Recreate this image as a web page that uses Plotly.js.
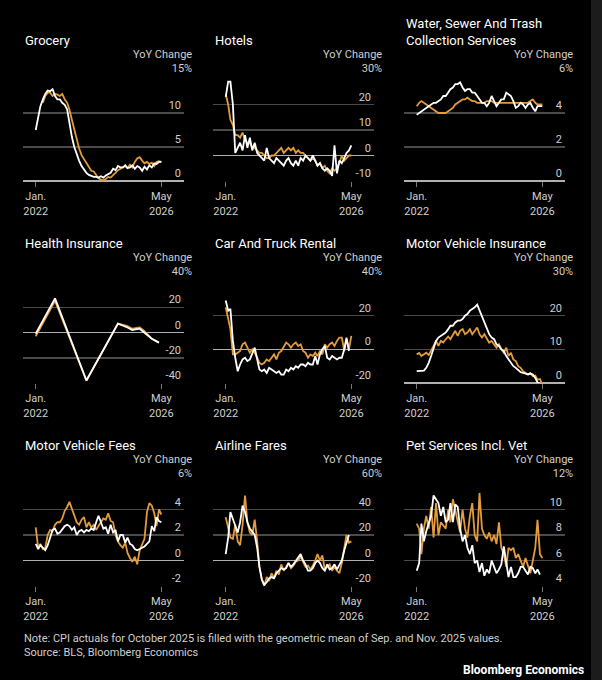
<!DOCTYPE html>
<html>
<head>
<meta charset="utf-8">
<script src="https://cdn.plot.ly/plotly-3.0.1.min.js"></script>
<style>html,body{margin:0;padding:0;background:#000}#chart{width:602px;height:680px}</style>
</head>
<body>
<div id="chart"></div>
<script>
// small multiples: white vs orange YoY series, monthly Jan 2022 onward
const ORANGE = '#e39b3b';
const WHITE = '#ffffff';
const FONT = '"Liberation Sans Narrow", "Roboto", "DejaVu Sans Condensed", sans-serif';
const W = 602, H = 680;

const titles = ['Grocery', 'Hotels', 'Water, Sewer And Trash<br>Collection Services',
  'Health Insurance', 'Car And Truck Rental', 'Motor Vehicle Insurance',
  'Motor Vehicle Fees', 'Airline Fares', 'Pet Services Incl. Vet'];
const yTops = [15, 30, 6, 40, 40, 30, 6, 60, 12];
const yBottoms = [0, -10, 0, -40, -20, 0, -2, -20, 4];
const yTicks = [[0, 5, 10], [-10, 0, 10, 20], [0, 2, 4], [-40, -20, 0, 20], [-20, 0, 20], [0, 10, 20], [-2, 0, 2, 4], [-20, 0, 20, 40], [4, 6, 8, 10]];

const groceryW = [7.5, 9.5, 11, 12, 12.8, 13.3, 13.2, 13.5, 12.5, 12.0, 12.0, 11.5, 11.2, 10.5, 8.5, 6.5, 5.0, 3.8, 3.0, 2.2, 1.6, 1.2, 0.9, 0.7, 0.6, 0.6, 0.5, 0.7, 0.5, 0.8, 1.0, 1.2, 1.8, 1.6, 2.2, 2.0, 2.0, 2.3, 1.9, 2.0, 2.3, 1.8, 2.2, 2.0, 1.5, 2.1, 1.7, 2.3, 2.0, 2.6, 2.5, 2.8, 2.8];
const groceryO = [null, null, null, 11.5, 12.5, 13.0, 13.0, 12.5, 12.8, 12.7, 12.5, 12.8, 12.0, 11.5, 10.5, 9.0, 7.5, 6.0, 4.8, 3.8, 3.2, 2.6, 2.0, 1.5, 1.4, 0.8, 0.4, 0.2, 0.1, 0.3, 0.6, 0.5, 0.8, 1.2, 1.6, 1.8, 2.0, 2.2, 1.9, 2.4, 2.0, 2.8, 3.3, 3.5, 3.0, 2.6, 2.8, 2.5, 2.7, 2.2, 2.8, 2.9, 2.8];
const hotelsW = [23, 29, 29, 20, 1, 3, 5, 2, 8, 3, 7, 2, 5, 1, 0, -1, -2, 3, -1, -2, -3, -1, -2, -3, -4, -2, -1, -3, -4, -2, -4, -1, -2, 0, -1, -2, 0, -2, -4, -3, -5, -6, -5, -6, -8, 4, -7, -2, -3, -1, 1, 2, 4];
const hotelsO = [24, 20, 14, 12, 8, 8, 7, 9, 6, 5, 5, 3, 3, 2, 1, 1, 0, -1, -1, 0, 0, 1, 2, 3, 1, 2, 3, 2, 3, 1, 2, 1, 1, 0, -1, -2, -1, -2, -4, -3, -5, -4, -6, -7, -5, -6, -5, -3, 0, -2, -1, 0, 0];
const waterW = [3.9, 4.0, 4.1, 4.2, 4.3, 4.4, 4.5, 4.6, 4.6, 4.7, 4.8, 5.0, 5.0, 5.2, 5.4, 5.5, 5.7, 5.7, 5.8, 5.5, 5.3, 5.4, 5.4, 5.2, 5.2, 5.0, 4.8, 4.6, 4.6, 4.4, 4.6, 5.0, 4.7, 4.4, 4.6, 4.8, 4.8, 5.2, 5.1, 5.0, 4.7, 4.3, 4.4, 4.6, 4.5, 4.3, 4.5, 4.6, 4.3, 4.1, 4.4, 4.4, 4.4];
const waterO = [4.4, 4.6, 4.7, 4.6, 4.5, 4.4, 4.3, 4.2, 4.1, 4.0, 4.0, 4.0, 4.0, 4.1, 4.2, 4.3, 4.5, 4.6, 4.7, 4.8, 4.8, 4.9, 4.8, 4.7, 4.7, 4.6, 4.6, 4.6, 4.6, 4.7, 4.7, 4.7, 4.6, 4.6, 4.6, 4.6, 4.6, 4.6, 4.6, 4.6, 4.6, 4.6, 4.6, 4.6, 4.6, 4.6, 4.6, 4.7, 4.8, 4.6, 4.5, 4.5, 4.5];
// health insurance is drawn from its turning points only
const healthDates = ['2022-01-01', '2022-09-01', '2023-10-01', '2024-11-01', '2025-03-01', '2025-05-01', '2025-08-01', '2025-10-01', '2026-01-01', '2026-04-01'];
const healthW = [-1, 27, -38, 7, 4, 2, 3, 0, -5, -8];
const healthO = [-3, 25, -38, 7, 5, 3, 4, 1, -5, -8];
const carW = [29, 23, 24, 5, -5, -13, -9, -6, -5, -7, -6, -2, 1, -6, -12, -13, -12, -14, -11, -12, -13, -14, -13, -15, -15, -12, -13, -11, -12, -10, -11, -9, -9, -10, -8, -9, -9, -4, -9, -3, 0, 2, -5, -6, -4, -5, -6, -5, -5, 0, 7, -1];
const carO = [25, 18, 12, -3, -3, -2, -1, 3, 4, 1, -2, 0, -2, -5, -8, -9, -8, -6, -7, -5, -3, -6, -2, -1, 2, 4, 3, 1, 3, 4, 2, 3, -1, -2, -5, -3, -4, -2, -4, -1, -3, 3, 1, 3, 4, 2, 5, 7, 7, -1, 6, 0, 8];
const mviW = [3.5, 3.6, 3.6, 3.7, 4.5, 6, 8, 10, 12.5, 13.5, 14, 14.5, 15, 16, 17, 17, 18, 18.5, 18.5, 19, 20, 20.5, 21.5, 22, 22.5, 23.3, 21.5, 20, 18, 16, 14.5, 13.5, 13, 11.5, 11, 10, 9.5, 8, 7, 6, 5, 4.5, 3.8, 3.2, 3, 2.8, 2.6, 2.8, 2.5, 1.5, 0.2, -0.2];
const mviO = [8.5, 8.9, 8, 8.5, 9, 8.3, 9.5, 11, 12.5, 11, 12.5, 12, 13, 13.8, 13, 14.5, 15.5, 14, 15.5, 16, 14.5, 15, 16, 14.5, 15.5, 16.5, 14.5, 13.5, 14.5, 13, 12, 12.5, 11.5, 10.5, 11.5, 10, 9, 10.5, 8, 9, 7, 6.5, 5, 4.5, 3.5, 3, 2.5, 3, 2, 2.2, 1, 1.2, -0.5];
const feesW = [1.3, 0.9, 1.2, 1.0, 0.8, 1.2, 1.8, 2.4, 2.5, 2.1, 2.2, 2.5, 2.7, 2.8, 2.7, 2.4, 2.6, 2.0, 2.3, 2.4, 2.2, 2.4, 2.3, 2.5, 2.4, 3.0, 3.5, 3.0, 2.5, 2.6, 2.1, 2.8, 2.2, 2.4, 1.5, 2.0, 2.0, 1.4, 1.8, 1.3, 1.2, 0.9, 0.8, 0.9, 1.0, 1.1, 1.3, 1.5, 2.7, 2.3, 3.4, 3.1, 3.0];
const feesO = [2.6, 1.0, 1.3, 0.9, 1.0, 2.0, 2.4, 2.3, 2.8, 3.0, 3.0, 3.3, 3.9, 4.2, 4.6, 4.0, 3.6, 3.0, 2.8, 3.2, 3.4, 2.6, 3.0, 2.6, 2.8, 2.4, 2.7, 3.0, 3.3, 3.2, 3.7, 3.1, 3.0, 2.0, 1.5, 1.2, 1.0, 1.4, 0.6, 0.2, -0.1, 0.3, -0.3, 0.8, 1.2, 1.7, 3.8, 4.5, 4.3, 3.7, 2.7, 4.0, 3.6];
const airW = [5, 18, 38, 33, 28, 22, 30, 43, 38, 30, 25, 22, 20, 10, -5, -15, -19, -17, -14, -13, -14, -10, -8, -6, -7, -6, -2, -5, -3, 0, 3, 5, 0, -3, -8, -8, -6, -2, 0, -2, -6, -8, -3, -7, -6, -3, -7, -4, 0, 8, 14, 20];
const airO = [34, 25, 18, 17, 28, 15, 12, 28, 51, 30, 22, 20, 32, 15, -5, -15, -20, -13, -16, -10, -14, -8, -11, -3, -8, -5, -2, -6, -4, -1, 0, 3, -1, -5, -4, -7, -4, 0, 5, 0, 4, -7, -5, -3, -8, -5, -8, -10, -2, 8, 20, 14, 15];
const petW = [5.2, 5.8, 8.9, 7.5, 8.3, 9.0, 9.5, 11.1, 10.8, 10.5, 9.5, 10.2, 9.0, 9.2, 10.5, 9.0, 10.4, 10.2, 8.5, 7.5, 8.0, 7.0, 6.5, 7.2, 5.8, 6.0, 5.1, 5.8, 4.8, 5.3, 5.0, 6.0, 5.5, 5.0, 5.3, 5.7, 7.1, 5.8, 4.7, 5.5, 4.7, 4.7, 5.0, 5.5, 5.5, 5.2, 4.9, 5.5, 5.4, 5.0, 5.3, 4.9];
const petO = [8.9, 8.5, 6.5, 8.5, 9.5, 8.5, 10.2, 7.8, 10.5, 8.0, 9.0, 8.7, 8.5, 10.0, 9.0, 10.8, 10.0, 9.0, 8.2, 10, 8.5, 7.8, 9.5, 10.5, 8.0, 7.5, 11.3, 8.5, 8.0, 7.7, 8.2, 7.5, 8.0, 7.3, 9.0, 7.0, 6.5, 5.5, 7.0, 6.8, 7.0, 6.2, 6.5, 6.0, 5.5, 6.2, 5.5, 5.0, 6.0, 7.0, 9.2, 6.5, 6.2];

const whites = [groceryW, hotelsW, waterW, healthW, carW, mviW, feesW, airW, petW];
const oranges = [groceryO, hotelsO, waterO, healthO, carO, mviO, feesO, airO, petO];

function monthDates(n) {
  const out = [];
  for (let i = 0; i < n; i++) {
    const y = 2022 + Math.floor(i / 12), m = (i % 12) + 1;
    out.push(`${y}-${String(m).padStart(2, '0')}-01`);
  }
  return out;
}
function datesFor(i, arr) { return i === 3 ? healthDates : monthDates(arr.length); }

const colX = [[23, 184], [213, 374], [404, 565]];
const rowY = [[79, 181], [282, 383], [484, 586]];

const traces = [], annotations = [], layout = {
  width: W, height: H, margin: { l: 0, r: 0, t: 0, b: 0 },
  paper_bgcolor: '#000', plot_bgcolor: '#000', showlegend: false,
  font: { family: FONT, color: '#cfcfcf', size: 11 },
  shapes: [{ type: 'rect', xref: 'paper', yref: 'paper', x0: 591 / W, x1: 1, y0: 0, y1: 1,
    fillcolor: '#1c1c1c', line: { width: 0 }, layer: 'below' }],
};

titles.forEach((t, i) => {
  const c = colX[i % 3], r = rowY[Math.floor(i / 3)];
  const n = i + 1, xa = 'xaxis' + (n === 1 ? '' : n), ya = 'yaxis' + (n === 1 ? '' : n);
  const xr = 'x' + (n === 1 ? '' : n), yr = 'y' + (n === 1 ? '' : n);
  layout[xa] = {
    domain: [c[0] / W, c[1] / W], anchor: yr, type: 'date',
    range: ['2021-07-25', '2027-02-10'], showgrid: false, zeroline: false, showline: false,
    tickvals: ['2022-01-01', '2026-05-01'], ticktext: ['Jan.<br>2022', 'May<br>2026'],
    ticks: 'outside', ticklen: 5, tickcolor: '#777', tickfont: { size: 11, color: '#cfcfcf' },
  };
  layout[ya] = {
    domain: [1 - r[1] / H, 1 - r[0] / H], anchor: xr, side: 'right',
    range: [yBottoms[i], yTops[i]], tickvals: yTicks[i].concat([yTops[i]]),
    ticktext: yTicks[i].map(String).concat(['']),
    ticklabelposition: 'inside top', gridcolor: '#4a4a4a', gridwidth: 1.5,
    zeroline: true, zerolinecolor: '#b0b0b0', zerolinewidth: 1.5, showline: false,
    tickfont: { size: 11, color: '#cfcfcf' },
  };
  traces.push({ x: datesFor(i, oranges[i]), y: oranges[i], xaxis: xr, yaxis: yr, mode: 'lines',
    line: { color: ORANGE, width: 1.8 }, connectgaps: false, hoverinfo: 'skip' });
  traces.push({ x: datesFor(i, whites[i]), y: whites[i], xaxis: xr, yaxis: yr, mode: 'lines',
    line: { color: WHITE, width: 1.8 }, hoverinfo: 'skip' });
  annotations.push({ xref: 'paper', yref: 'paper', x: c[0] / W, y: 1 - (r[0] - 29) / H, xanchor: 'left', yanchor: 'bottom',
    text: t, showarrow: false, align: 'left', font: { size: 13, color: '#fff' } });
  annotations.push({ xref: 'paper', yref: 'paper', x: (c[1] + 10) / W, y: 1 - (r[0] - 2) / H, xanchor: 'right', yanchor: 'bottom',
    text: `YoY Change<br>${yTops[i]}%`, showarrow: false, align: 'right', font: { size: 11, color: '#cfcfcf' } });
});

annotations.push({ xref: 'paper', yref: 'paper', x: 22 / W, y: 1 - 630 / H, xanchor: 'left', yanchor: 'top', align: 'left',
  showarrow: false, font: { size: 11, color: '#cfcfcf' },
  text: 'Note: CPI actuals for October 2025 is filled with the geometric mean of Sep. and Nov. 2025 values.<br>Source: BLS, Bloomberg Economics' });
annotations.push({ xref: 'paper', yref: 'paper', x: 586 / W, y: 1 - 661 / H, xanchor: 'right', yanchor: 'top',
  showarrow: false, font: { size: 12, color: '#fff' }, text: '<b>Bloomberg Economics</b>' });
layout.annotations = annotations;

Plotly.newPlot('chart', traces, layout, { displayModeBar: false, staticPlot: true });
</script>
</body>
</html>
